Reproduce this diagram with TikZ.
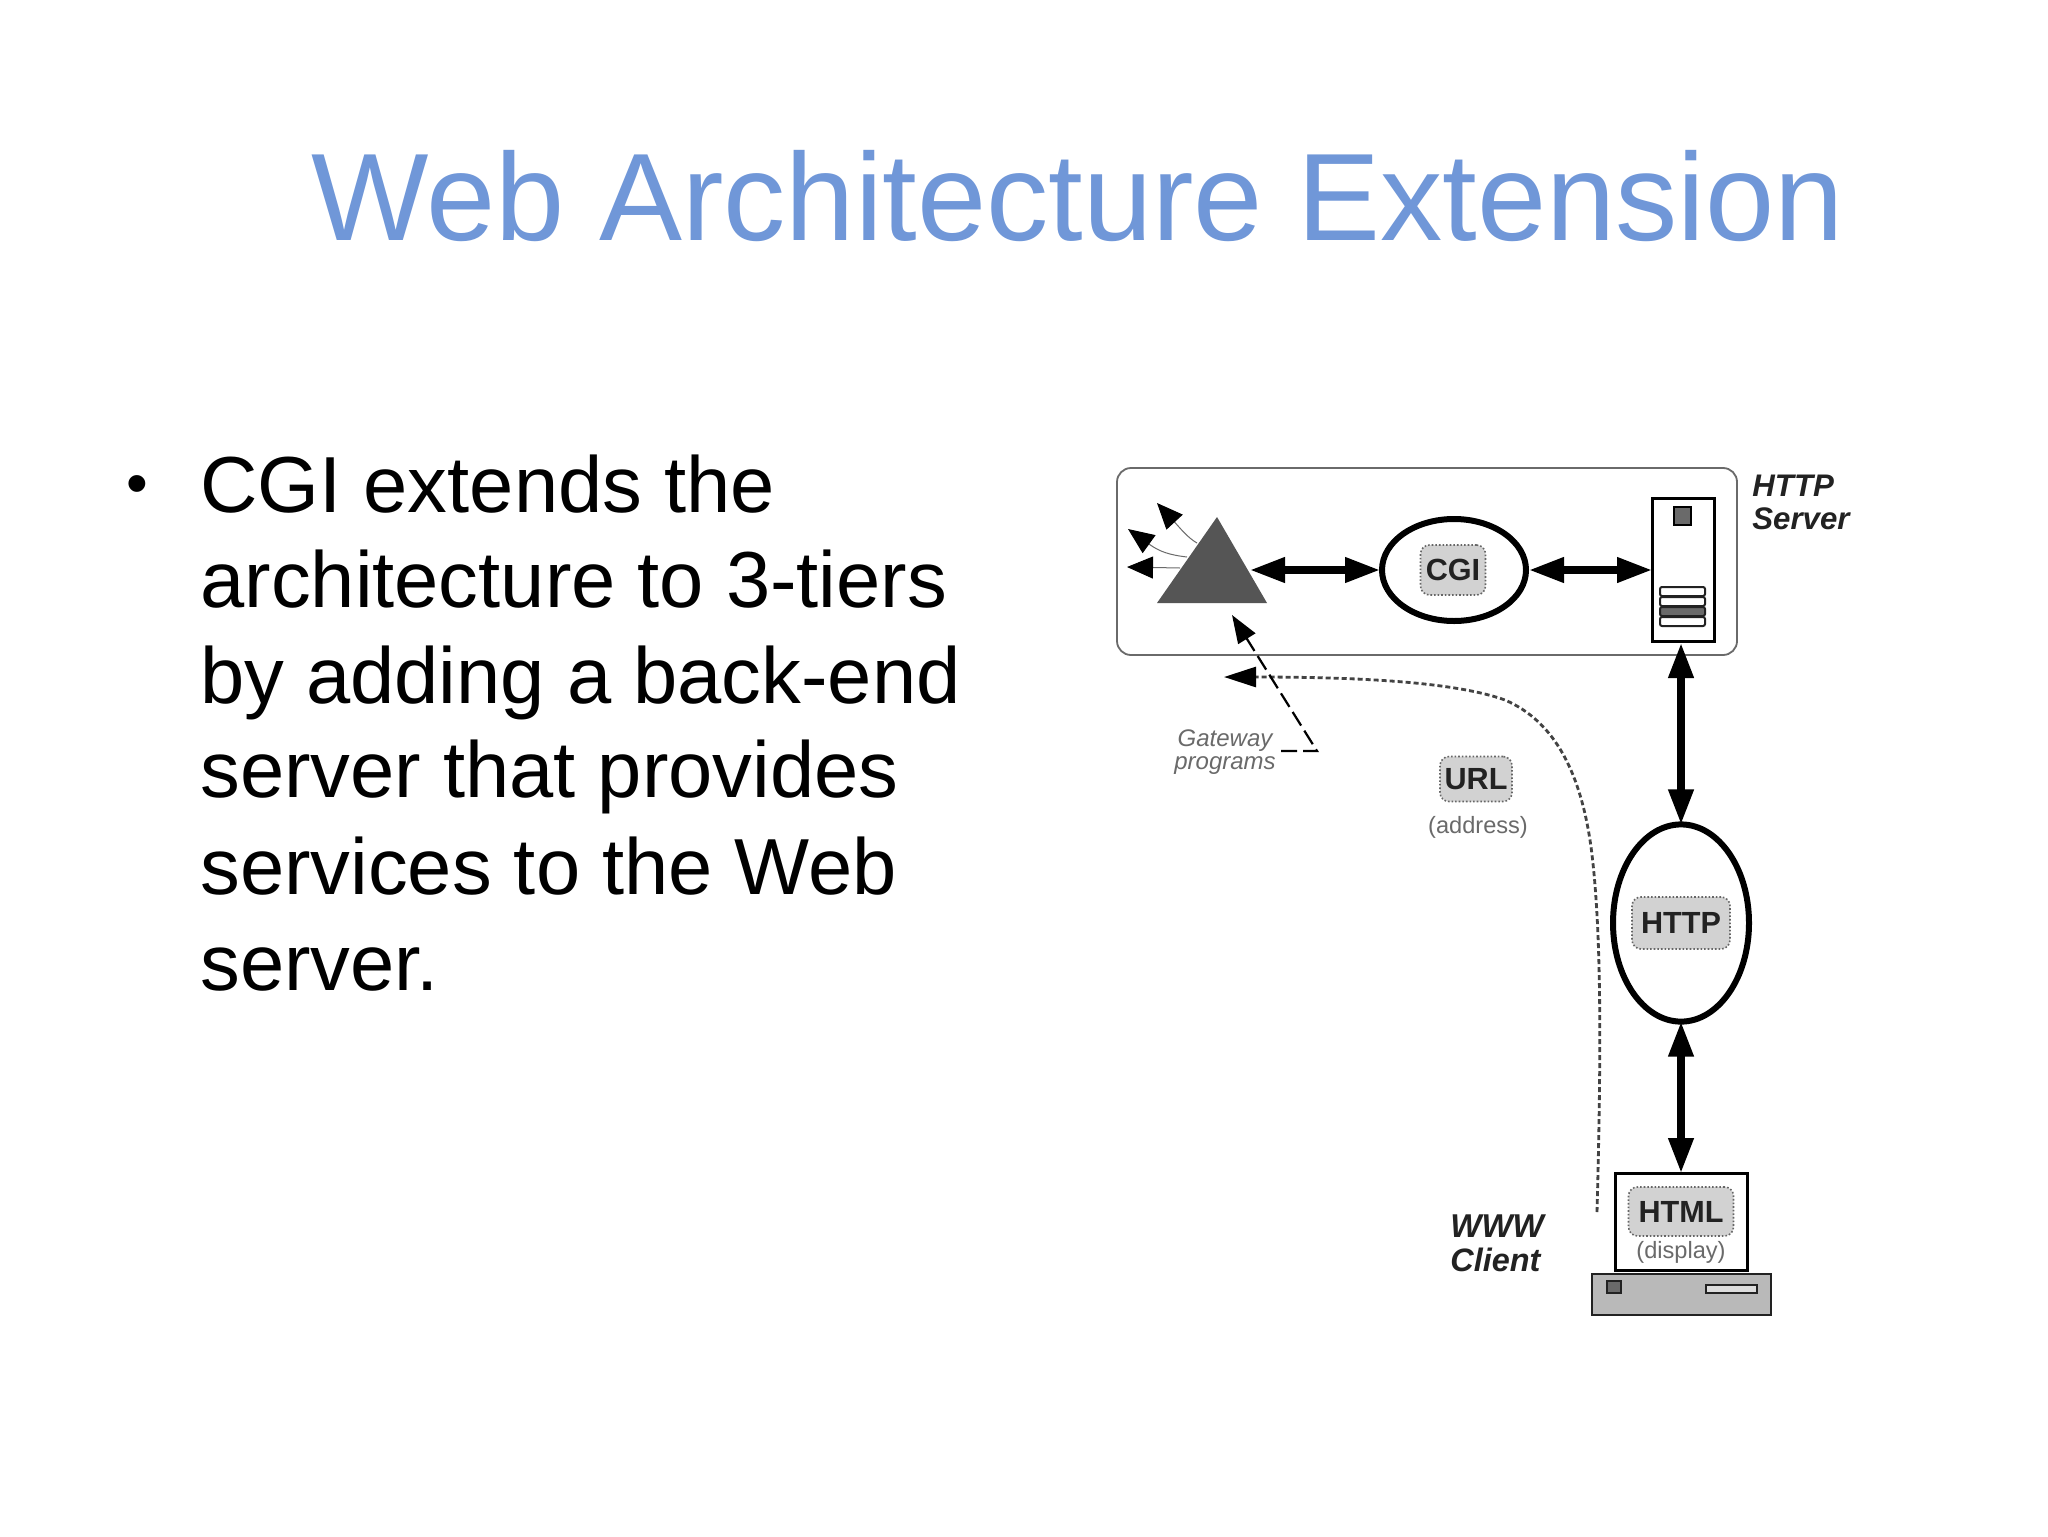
\documentclass[tikz,border=0pt]{standalone}
\usepackage{fontspec}
\setmainfont{Liberation Sans}
\usetikzlibrary{arrows.meta,calc,shapes.geometric}
\definecolor{titleblue}{HTML}{7097D8}
\definecolor{tagfill}{HTML}{D2D2D2}
\definecolor{tagedge}{HTML}{666666}
\definecolor{trigray}{HTML}{555555}
\definecolor{softgray}{HTML}{6A6A6A}
\definecolor{softblack}{HTML}{222222}
\definecolor{basegray}{HTML}{B9B9B9}
\newcommand{\fsz}[1]{\fontsize{#1}{#1}\selectfont}
\tikzset{
  x=0.5pt,y=-0.5pt,
  titletext/.style={anchor=base west,inner sep=0,text=titleblue,font=\fsz{62.2}},
  bodytext/.style={anchor=base west,inner sep=0,text=black,font=\fsz{39.75}},
  tagdot/.style={draw=tagedge,densely dotted,line width=0.8pt,fill=tagfill,rounded corners=4.5pt,inner sep=0,text=softblack,font=\fsz{15.3}\bfseries},
  oval/.style={ellipse,draw=black,line width=3pt,fill=white,inner sep=0,outer sep=0},
  small/.style={inner sep=0,text=softgray,font=\fsz{11.8}},
  smallit/.style={inner sep=0,text=softgray,font=\fsz{12}\itshape},
  bigit/.style={inner sep=0,text=softblack,font=\fsz{15.6}\bfseries\itshape,anchor=base west},
  boxline/.style={draw=black,line width=1.5pt,fill=white,outer sep=0},
  thick arrow/.style={line width=3.6pt,draw=black,{Triangle[length=17.5pt,width=12pt]}-{Triangle[length=17.5pt,width=12pt]}},
  thinray/.style={draw=softgray,line width=0.5pt,-{Triangle[length=13pt,width=11pt,color=black]}},
  urlpath/.style={draw=softblack!85!white,line width=1.4pt,dash pattern=on 2.5pt off 1.5pt,-{Triangle[length=16pt,width=10pt,color=black]}},
  gatepath/.style={draw=black,line width=1.1pt,dash pattern=on 8pt off 3pt},
}
\begin{document}
\begin{tikzpicture}
\useasboundingbox (0,0) rectangle (2048,1536);
\fill[white] (0,0) rectangle (2048,1536);

\node[titletext] (title) at (311,240) {Web Architecture Extension};
\node[anchor=center,inner sep=0,font=\fsz{31}] (bullet) at (137,490) {•};
\node[bodytext] (l1) at (200,512) {CGI extends the};
\node[bodytext] (l2) at (200,607) {architecture to 3-tiers};
\node[bodytext] (l3) at (200,703) {by adding a back-end};
\node[bodytext] (l4) at (200,797) {server that provides};
\node[bodytext] (l5) at (200,894) {services to the Web};
\node[bodytext] (l6) at (200,990) {server.};

% server frame
\draw[draw=softgray,line width=0.9pt,rounded corners=7pt] (1117,468) rectangle (1737,655);

% triangle and rays
\coordinate (triE) at (1250,570);
\coordinate (ray1s) at (1197,543);
\coordinate (ray1e) at (1157,503);
\coordinate (ray2s) at (1187,557);
\coordinate (ray2e) at (1128,529);
\coordinate (ray3s) at (1180,568);
\coordinate (ray3e) at (1127,567);
\draw[thinray] (ray1s) .. controls (1188,538) and (1180,528) .. (ray1e);
\draw[thinray] (ray2s) .. controls (1170,555) and (1160,552) .. (ray2e);
\draw[thinray] (ray3s) -- (ray3e);
\fill[trigray] (1217,517) -- (1267,603) -- (1157,603) -- cycle;

% CGI
\node[oval,minimum width=72pt,minimum height=51pt] (cgi) at (1454,570) {};
\node[tagdot,minimum width=32.5pt,minimum height=25pt] (cgitag) at (1453,570) {CGI};

% server
\node[boxline,minimum width=31pt,minimum height=71.5pt] (server) at (1683,569.5) {};
\draw[draw=black,fill=softgray,line width=0.8pt] (1674,507) rectangle (1691,525);
\foreach \y/\c in {587/white,597/white,607/softgray,617/white}{
  \draw[draw=softblack,fill=\c,line width=1pt,rounded corners=1pt] (1660,\y) rectangle (1705,\y+9);
}

\coordinate (cgiW) at (1380,570);
\coordinate (cgiE) at (1529,570);
\coordinate (srvW) at (1652,570);
\draw[thick arrow] (triE) -- (cgiW);
\draw[thick arrow] (cgiE) -- (srvW);

% HTTP
\node[oval,minimum width=68pt,minimum height=98.6pt] (http) at (1681,923) {};
\node[tagdot,minimum width=49pt,minimum height=26pt] (httptag) at (1681,923) {HTTP};

% client
\node[boxline,minimum width=66pt,minimum height=48.5pt] (screen) at (1681,1221.5) {};
\node[tagdot,minimum width=52.5pt,minimum height=24.5pt] (htmltag) at (1681,1211.5) {HTML};
\node[small] (display) at (1681,1252) {(display)};
\node[draw=softblack,line width=1.3pt,fill=basegray,minimum width=89.5pt,minimum height=20.5pt,inner sep=0] (base) at (1681.5,1294.5) {};
\draw[draw=softblack,fill=softgray,line width=1pt] (1607,1281) rectangle (1621,1293);
\draw[draw=softblack,fill=basegray!50!white,line width=1pt] (1706,1285) rectangle (1757,1293);

\coordinate (srvS) at (1681,643);
\draw[thick arrow] (srvS) -- (http.north);
\draw[thick arrow] (http.south) -- (screen.north);

% URL
\node[tagdot,minimum width=36pt,minimum height=22.5pt] (urltag) at (1476,779) {URL};
\node[small] (address) at (1478,827) {(address)};

% dotted request path
\coordinate (urlend) at (1597,1212);
\coordinate (urltip) at (1224,677);
\draw[urlpath] (urlend) .. controls (1601,1060) and (1602,930) .. (1591,847)
  .. controls (1581,775) and (1556,722) .. (1505,700)
  .. controls (1455,682) and (1360,677) .. (urltip);

% gateway
\node[smallit,anchor=center] (gw1) at (1225,741) {Gateway};
\node[smallit,anchor=center] (gw2) at (1225,766) {programs};
\coordinate (gwc) at (1317,751);
\coordinate (gwt) at (1232,615);
\coordinate (gws) at (1281,751);
\draw[gatepath,-{Triangle[length=14pt,width=10pt,color=black]}] (gws) -- (gwc) -- (gwt);

% labels
\node[bigit] (srv1) at (1752,496) {HTTP};
\node[bigit] (srv2) at (1752,529) {Server};
\node[bigit,font=\fsz{16.5}\bfseries\itshape] (cl1) at (1450,1237) {WWW};
\node[bigit,font=\fsz{16.2}\bfseries\itshape] (cl2) at (1450,1271) {Client};
\end{tikzpicture}
\end{document}
